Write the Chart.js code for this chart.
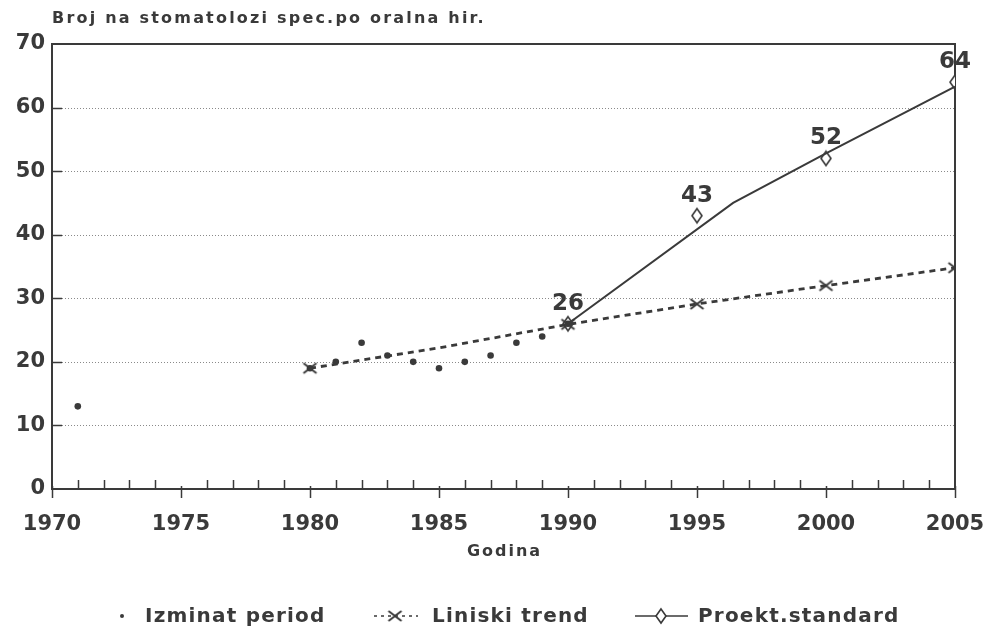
<!DOCTYPE html>
<html>
<head>
<meta charset="utf-8">
<script src="https://cdn.jsdelivr.net/npm/chart.js@4/dist/chart.umd.min.js"></script>
<style>
  html, body { margin: 0; padding: 0; background: #ffffff; }
  #wrap { width: 990px; height: 631px; position: relative; }
</style>
</head>
<body>
<div id="wrap"><canvas id="c" width="990" height="631"></canvas></div>
<script>
// ---- data ----
const chartTitle = "Broj na stomatolozi spec.po oralna hir.";
const xAxisTitle = "Godina";
const seriesNames = ["Izminat period", "Liniski trend", "Proekt.standard"];

const pastYears  = [1971, 1980, 1981, 1982, 1983, 1984, 1985, 1986, 1987, 1988, 1989, 1990];
const pastValues = [13,   19,   20,   23,   21,   20,   19,   20,   21,   23,   24,   26];

const trendYears  = [1980, 1985, 1990, 1995, 2000, 2005];
const trendValues = [19,   22.2, 25.9, 29.1, 32,   34.8];
const trendMarked = [true, false, true, true, true, true];

const projYears  = [1990, 1995, 2000, 2005];
const projValues = [26,   43,   52,   64];
const projLabels = ["26", "43", "52", "64"];

const projLineYears  = [1990, 1996.4, 2000, 2005];
const projLineValues = [26,   45,     52.8, 63.3];

const xTicks = [1970, 1975, 1980, 1985, 1990, 1995, 2000, 2005];
const yTicks = [0, 10, 20, 30, 40, 50, 60, 70];

// ---- styling helpers ----
const INK = '#3a3a3a';
const FONT = '"DejaVu Sans", sans-serif';

function makeDiamond(w, h, fill) {
  const c = document.createElement('canvas');
  c.width = w + 4; c.height = h + 4;
  const g = c.getContext('2d');
  g.beginPath();
  g.moveTo(c.width / 2, 2);
  g.lineTo(c.width - 2, c.height / 2);
  g.lineTo(c.width / 2, c.height - 2);
  g.lineTo(2, c.height / 2);
  g.closePath();
  g.fillStyle = fill; g.fill();
  g.strokeStyle = INK; g.lineWidth = 1.6; g.stroke();
  return c;
}
function makeCross(w, h) {
  const c = document.createElement('canvas');
  c.width = w + 4; c.height = h + 4;
  const g = c.getContext('2d');
  g.strokeStyle = INK; g.lineWidth = 2;
  g.beginPath();
  g.moveTo(2, 2); g.lineTo(c.width - 2, c.height - 2);
  g.moveTo(c.width - 2, 2); g.lineTo(2, c.height - 2);
  g.stroke();
  return c;
}
const diamondImg = makeDiamond(10, 14, '#ffffff');
const crossImg = makeCross(13, 10);
const noPoint = document.createElement('canvas'); noPoint.width = 1; noPoint.height = 1;

const toXY = (xs, ys) => xs.map((x, i) => ({ x: x, y: ys[i] }));

// ---- custom drawing plugin ----
const decor = {
  id: 'decor',
  beforeDatasetsDraw(chart) {
    const { ctx, chartArea: a, scales: { x, y } } = chart;
    ctx.save();
    // dotted grid lines
    ctx.strokeStyle = '#8a8a8a';
    ctx.lineWidth = 1;
    ctx.setLineDash([1, 2]);
    yTicks.forEach(v => {
      if (v === 0 || v === 70) return;
      const py = Math.round(y.getPixelForValue(v)) + 0.5;
      ctx.beginPath(); ctx.moveTo(a.left + 10, py); ctx.lineTo(a.right, py); ctx.stroke();
    });
    ctx.setLineDash([]);
    // inner y ticks
    ctx.strokeStyle = INK; ctx.lineWidth = 1.5;
    yTicks.forEach(v => {
      if (v === 0 || v === 70) return;
      const py = Math.round(y.getPixelForValue(v)) + 0.5;
      ctx.beginPath(); ctx.moveTo(a.left, py); ctx.lineTo(a.left + 10, py); ctx.stroke();
    });
    // x ticks: minor each year (up), major each 5 years (down)
    for (let yr = 1970; yr <= 2005; yr++) {
      const px = Math.round(x.getPixelForValue(yr)) + 0.5;
      ctx.beginPath();
      if (yr % 5 === 0) { ctx.moveTo(px, a.bottom - 3); ctx.lineTo(px, a.bottom + 9); }
      else { ctx.moveTo(px, a.bottom - 9); ctx.lineTo(px, a.bottom); }
      ctx.stroke();
    }
    // frame
    ctx.lineWidth = 2;
    ctx.strokeStyle = INK;
    ctx.strokeRect(a.left, a.top, a.right - a.left, a.bottom - a.top);
    ctx.restore();
  },
  afterDatasetsDraw(chart) {
    const { ctx } = chart;
    const meta = chart.getDatasetMeta(3);
    ctx.save();
    ctx.fillStyle = INK;
    ctx.font = 'bold 23px ' + FONT;
    ctx.textAlign = 'center';
    ctx.textBaseline = 'middle';
    meta.data.forEach((pt, i) => {
      ctx.fillText(projLabels[i], pt.x, pt.y - 20);
    });
    ctx.restore();
  },
  afterDraw(chart) {
    const { ctx, chartArea: a } = chart;
    ctx.save();
    ctx.fillStyle = INK;
    // title
    ctx.font = 'bold 16px ' + FONT;
    ctx.textAlign = 'left';
    ctx.textBaseline = 'middle';
    ctx.letterSpacing = '2.2px';
    ctx.fillText(chartTitle, a.left, 19);
    // x axis title
    ctx.font = 'bold 16px ' + FONT;
    ctx.textAlign = 'center';
    ctx.letterSpacing = '2px';
    ctx.fillText(xAxisTitle, (a.left + a.right) / 2 + 1, 552);
    // legend
    const ly = 617;
    ctx.font = 'bold 20px ' + FONT;
    ctx.textAlign = 'left';
    ctx.textBaseline = 'middle';
    ctx.letterSpacing = '1.2px';
    // item 1
    ctx.beginPath(); ctx.arc(122, ly - 1, 2, 0, Math.PI * 2); ctx.fill();
    ctx.fillText(seriesNames[0], 145, ly);
    // item 2
    ctx.strokeStyle = INK; ctx.lineWidth = 1.6;
    ctx.setLineDash([3, 4]);
    ctx.beginPath(); ctx.moveTo(374, ly - 1); ctx.lineTo(418, ly - 1); ctx.stroke();
    ctx.setLineDash([]);
    ctx.drawImage(crossImg, 395 - crossImg.width / 2, ly - 1 - crossImg.height / 2);
    ctx.fillText(seriesNames[1], 432, ly);
    // item 3
    ctx.lineWidth = 1.6;
    ctx.beginPath(); ctx.moveTo(635, ly - 1); ctx.lineTo(688, ly - 1); ctx.stroke();
    ctx.drawImage(diamondImg, 661 - diamondImg.width / 2, ly - 1 - diamondImg.height / 2);
    ctx.fillText(seriesNames[2], 698, ly);
    ctx.letterSpacing = '0px';
    ctx.restore();
  }
};

new Chart(document.getElementById('c'), {
  type: 'scatter',
  data: {
    datasets: [
      {
        label: seriesNames[0],
        data: toXY(pastYears, pastValues),
        showLine: false,
        pointStyle: 'circle',
        pointRadius: 3.3,
        backgroundColor: INK,
        borderColor: INK,
        borderWidth: 0
      },
      {
        label: seriesNames[1],
        data: toXY(trendYears, trendValues),
        showLine: true,
        borderColor: INK,
        borderWidth: 2.8,
        borderDash: [6, 5],
        pointStyle: trendMarked.map(m => m ? crossImg : noPoint),
        pointRadius: 6,
        backgroundColor: INK
      },
      {
        label: seriesNames[2] + ' line',
        data: toXY(projLineYears, projLineValues),
        showLine: true,
        borderColor: INK,
        borderWidth: 2,
        pointRadius: 0,
        tension: 0
      },
      {
        label: seriesNames[2],
        data: toXY(projYears, projValues),
        showLine: false,
        pointStyle: diamondImg,
        pointRadius: 7,
        borderColor: INK,
        backgroundColor: '#ffffff'
      }
    ]
  },
  options: {
    responsive: false,
    animation: false,
    devicePixelRatio: 1,
    layout: { padding: { left: 0, right: 35, top: 44, bottom: 0 } },
    plugins: {
      legend: { display: false },
      title: { display: false },
      tooltip: { enabled: false }
    },
    scales: {
      x: {
        type: 'linear',
        min: 1970, max: 2005,
        afterFit: s => { s.height = 142; s.paddingLeft = 0; s.paddingRight = 0; },
        afterBuildTicks: s => { s.ticks = xTicks.map(v => ({ value: v })); },
        ticks: {
          padding: 23,
          color: INK,
          font: { family: FONT, weight: 'bold', size: 21 },
          callback: v => String(v),
          maxRotation: 0
        },
        grid: { display: false, drawTicks: false },
        border: { display: false }
      },
      y: {
        type: 'linear',
        min: 0, max: 70,
        afterFit: s => { s.width = 52; s.paddingTop = 0; s.paddingBottom = 0; },
        afterBuildTicks: s => { s.ticks = yTicks.map(v => ({ value: v })); },
        ticks: {
          padding: 7,
          color: INK,
          font: { family: FONT, weight: 'bold', size: 21 },
          callback: v => String(v)
        },
        grid: { display: false, drawTicks: false },
        border: { display: false }
      }
    }
  },
  plugins: [decor]
});
</script>
</body>
</html>
